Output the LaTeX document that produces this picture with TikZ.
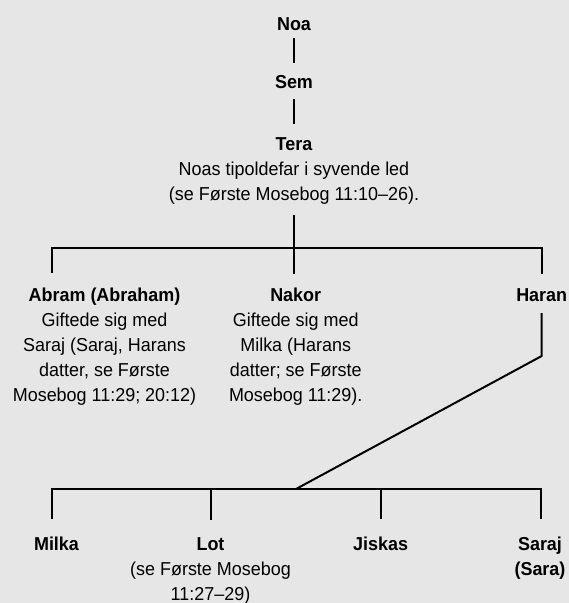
\documentclass[tikz,border=0pt]{standalone}
\usepackage{fontspec}
\setmainfont{Liberation Sans}[FakeStretch=0.96]
\definecolor{panel}{RGB}{230,230,230}

\begin{document}
\begin{tikzpicture}[x=1pt,y=-1pt,
	  who/.style={anchor=base,inner sep=0pt,font=\fontsize{18.7}{25}\selectfont\bfseries},
	  note/.style={anchor=base,align=center,inner sep=0pt,font=\fontsize{18.7}{25}\selectfont},
	  tie/.style={line width=2pt}]
	  \fill[panel] (0,0) rectangle (569,603);
	  \useasboundingbox (0,0) rectangle (569,603);

	  % base of a note = its last line
	  \node[who] (1) at (294,30) {Noa};
	  \node[who] (2) at (294,88) {Sem};
	  \node[who] (3) at (294,150.5) {Tera};
	  \node[note] (3a) at (294,200.5) {Noas tipoldefar i syvende led\\(se Første Mosebog 11:10–26).};
	  \node[who] (4) at (104.5,301.7) {Abram (Abraham)};
	  \node[note] (4a) at (104.5,401.7) {Giftede sig med\\Saraj (Saraj, Harans\\datter, se Første\\Mosebog 11:29; 20:12)};
	  \node[who] (5) at (295.7,301.7) {Nakor};
	  \node[note] (5a) at (295.7,401.7) {Giftede sig med\\Milka (Harans\\datter; se Første\\Mosebog 11:29).};
	  \node[who] (6) at (541.7,301.7) {Haran};
	  \node[who] (7) at (56.5,550) {Milka};
	  \node[who] (8) at (210.5,550) {Lot};
	  \node[note] (8a) at (210.5,600) {(se Første Mosebog\\11:27–29)};
	  \node[who] (9) at (380.7,550) {Jiskas};
	  \node[who,align=center] (10) at (540,575.5) {Saraj\\(Sara)};

	  \coordinate (f1) at (52,247.5);
	  \coordinate (f1b) at (52,273);
	  \coordinate (f2) at (541.7,247.5);
	  \coordinate (k) at (541.7,356);
	  \coordinate (j) at (296,489);
	  \coordinate (g1) at (52,489);
	  \coordinate (g1b) at (52,519);
	  \coordinate (g2) at (541,489);

	  \draw[tie,shorten <=8pt,shorten >=12pt] (1.south) -- (2.north);
	  \draw[tie,shorten <=11pt,shorten >=13.5pt] (2.south) -- (3.north);
	  \draw[tie,shorten <=10pt,shorten >=14pt] (3a.south) -- (3a.south |- 5.north);
	  \draw[tie,shorten >=15pt] (f1b) -- (f1) -- (f2) -- (6.north);
	  \draw[tie,shorten <=11pt] (6.south) -- (k) -- (j);
	  \draw[tie] (g1b) -- (g1) -- (g2) -- ([yshift=-30pt]g2);
	  \draw[tie,shorten >=17pt] (8.north |- g1) -- (8.north);
	  \draw[tie,shorten >=17pt] (9.north |- g1) -- (9.north);
	\end{tikzpicture}
\end{document}
